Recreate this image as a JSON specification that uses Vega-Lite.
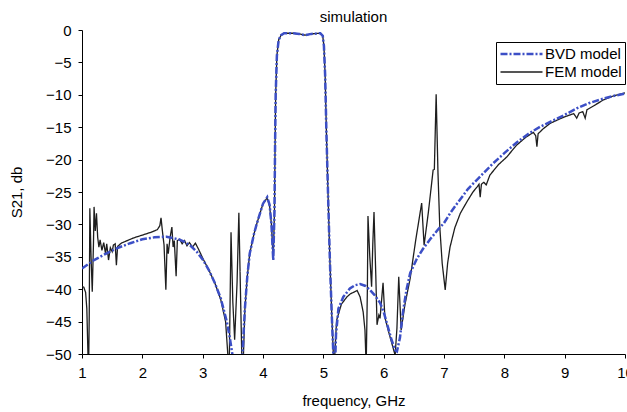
{
  "$schema": "https://vega.github.io/schema/vega-lite/v6.json",
  "autosize": {"type": "none"},
  "padding": {"left": 82, "top": 30, "right": 2, "bottom": 58},
  "width": 543,
  "height": 324,
  "title": {"text": "simulation", "fontSize": 15, "fontWeight": "normal", "font": "Liberation Sans", "color": "#000", "offset": 7, "dy": 9, "anchor": "middle", "frame": "group"},
  "data": {"values": [
    {"f": 1.0, "s21": -39.6, "series": "FEM model"},
    {"f": 1.03, "s21": -39.7, "series": "FEM model"},
    {"f": 1.06, "s21": -40.5, "series": "FEM model"},
    {"f": 1.08, "s21": -43, "series": "FEM model"},
    {"f": 1.1, "s21": -50.5, "series": "FEM model"},
    {"f": 1.11, "s21": -52, "series": "FEM model"},
    {"f": 1.12, "s21": -44, "series": "FEM model"},
    {"f": 1.13, "s21": -27.5, "series": "FEM model"},
    {"f": 1.15, "s21": -35, "series": "FEM model"},
    {"f": 1.17, "s21": -40.4, "series": "FEM model"},
    {"f": 1.19, "s21": -33, "series": "FEM model"},
    {"f": 1.2, "s21": -27.3, "series": "FEM model"},
    {"f": 1.22, "s21": -31, "series": "FEM model"},
    {"f": 1.24, "s21": -28.3, "series": "FEM model"},
    {"f": 1.26, "s21": -32, "series": "FEM model"},
    {"f": 1.28, "s21": -33.5, "series": "FEM model"},
    {"f": 1.3, "s21": -32.4, "series": "FEM model"},
    {"f": 1.33, "s21": -34, "series": "FEM model"},
    {"f": 1.36, "s21": -32.8, "series": "FEM model"},
    {"f": 1.39, "s21": -34.5, "series": "FEM model"},
    {"f": 1.41, "s21": -33, "series": "FEM model"},
    {"f": 1.44, "s21": -35.5, "series": "FEM model"},
    {"f": 1.47, "s21": -33.6, "series": "FEM model"},
    {"f": 1.5, "s21": -34.2, "series": "FEM model"},
    {"f": 1.52, "s21": -33.2, "series": "FEM model"},
    {"f": 1.55, "s21": -33, "series": "FEM model"},
    {"f": 1.57, "s21": -36.3, "series": "FEM model"},
    {"f": 1.59, "s21": -33.4, "series": "FEM model"},
    {"f": 1.65, "s21": -32.9, "series": "FEM model"},
    {"f": 1.75, "s21": -32.5, "series": "FEM model"},
    {"f": 1.85, "s21": -32.1, "series": "FEM model"},
    {"f": 1.95, "s21": -31.8, "series": "FEM model"},
    {"f": 2.05, "s21": -31.5, "series": "FEM model"},
    {"f": 2.15, "s21": -31.2, "series": "FEM model"},
    {"f": 2.25, "s21": -30.8, "series": "FEM model"},
    {"f": 2.29, "s21": -30.2, "series": "FEM model"},
    {"f": 2.31, "s21": -29, "series": "FEM model"},
    {"f": 2.33, "s21": -30.8, "series": "FEM model"},
    {"f": 2.36, "s21": -33.2, "series": "FEM model"},
    {"f": 2.39, "s21": -40.1, "series": "FEM model"},
    {"f": 2.41, "s21": -33, "series": "FEM model"},
    {"f": 2.43, "s21": -34.5, "series": "FEM model"},
    {"f": 2.46, "s21": -32, "series": "FEM model"},
    {"f": 2.49, "s21": -30.4, "series": "FEM model"},
    {"f": 2.51, "s21": -33.5, "series": "FEM model"},
    {"f": 2.53, "s21": -32.5, "series": "FEM model"},
    {"f": 2.56, "s21": -38, "series": "FEM model"},
    {"f": 2.58, "s21": -32.5, "series": "FEM model"},
    {"f": 2.62, "s21": -32.3, "series": "FEM model"},
    {"f": 2.66, "s21": -33, "series": "FEM model"},
    {"f": 2.7, "s21": -32.5, "series": "FEM model"},
    {"f": 2.74, "s21": -33.3, "series": "FEM model"},
    {"f": 2.78, "s21": -32.8, "series": "FEM model"},
    {"f": 2.83, "s21": -33.5, "series": "FEM model"},
    {"f": 2.88, "s21": -32.9, "series": "FEM model"},
    {"f": 2.93, "s21": -33.8, "series": "FEM model"},
    {"f": 3.0, "s21": -35.2, "series": "FEM model"},
    {"f": 3.1, "s21": -37, "series": "FEM model"},
    {"f": 3.2, "s21": -39, "series": "FEM model"},
    {"f": 3.3, "s21": -41.6, "series": "FEM model"},
    {"f": 3.38, "s21": -45, "series": "FEM model"},
    {"f": 3.42, "s21": -50.5, "series": "FEM model"},
    {"f": 3.44, "s21": -52, "series": "FEM model"},
    {"f": 3.47, "s21": -31.2, "series": "FEM model"},
    {"f": 3.5, "s21": -42, "series": "FEM model"},
    {"f": 3.53, "s21": -47.8, "series": "FEM model"},
    {"f": 3.57, "s21": -39, "series": "FEM model"},
    {"f": 3.6, "s21": -28.2, "series": "FEM model"},
    {"f": 3.63, "s21": -42, "series": "FEM model"},
    {"f": 3.65, "s21": -51, "series": "FEM model"},
    {"f": 3.67, "s21": -52, "series": "FEM model"},
    {"f": 3.7, "s21": -43, "series": "FEM model"},
    {"f": 3.74, "s21": -38, "series": "FEM model"},
    {"f": 3.78, "s21": -34.5, "series": "FEM model"},
    {"f": 3.85, "s21": -31.5, "series": "FEM model"},
    {"f": 3.9, "s21": -29.8, "series": "FEM model"},
    {"f": 4.0, "s21": -26.8, "series": "FEM model"},
    {"f": 4.07, "s21": -25.9, "series": "FEM model"},
    {"f": 4.11, "s21": -27.2, "series": "FEM model"},
    {"f": 4.14, "s21": -30, "series": "FEM model"},
    {"f": 4.17, "s21": -35.5, "series": "FEM model"},
    {"f": 4.19, "s21": -28, "series": "FEM model"},
    {"f": 4.2, "s21": -18, "series": "FEM model"},
    {"f": 4.21, "s21": -10, "series": "FEM model"},
    {"f": 4.23, "s21": -4, "series": "FEM model"},
    {"f": 4.26, "s21": -1.5, "series": "FEM model"},
    {"f": 4.3, "s21": -0.8, "series": "FEM model"},
    {"f": 4.35, "s21": -0.5, "series": "FEM model"},
    {"f": 4.5, "s21": -0.5, "series": "FEM model"},
    {"f": 4.6, "s21": -0.6, "series": "FEM model"},
    {"f": 4.7, "s21": -0.8, "series": "FEM model"},
    {"f": 4.8, "s21": -0.6, "series": "FEM model"},
    {"f": 4.95, "s21": -0.5, "series": "FEM model"},
    {"f": 4.99, "s21": -0.9, "series": "FEM model"},
    {"f": 5.01, "s21": -2.5, "series": "FEM model"},
    {"f": 5.03, "s21": -7, "series": "FEM model"},
    {"f": 5.05, "s21": -15.4, "series": "FEM model"},
    {"f": 5.08, "s21": -26, "series": "FEM model"},
    {"f": 5.11, "s21": -36, "series": "FEM model"},
    {"f": 5.14, "s21": -44, "series": "FEM model"},
    {"f": 5.17, "s21": -51, "series": "FEM model"},
    {"f": 5.19, "s21": -50, "series": "FEM model"},
    {"f": 5.22, "s21": -44.8, "series": "FEM model"},
    {"f": 5.3, "s21": -42.3, "series": "FEM model"},
    {"f": 5.39, "s21": -41.2, "series": "FEM model"},
    {"f": 5.45, "s21": -40.7, "series": "FEM model"},
    {"f": 5.52, "s21": -40.4, "series": "FEM model"},
    {"f": 5.56, "s21": -40.2, "series": "FEM model"},
    {"f": 5.61, "s21": -41.2, "series": "FEM model"},
    {"f": 5.66, "s21": -43.5, "series": "FEM model"},
    {"f": 5.69, "s21": -46.3, "series": "FEM model"},
    {"f": 5.71, "s21": -52, "series": "FEM model"},
    {"f": 5.73, "s21": -40, "series": "FEM model"},
    {"f": 5.74, "s21": -28.7, "series": "FEM model"},
    {"f": 5.77, "s21": -35, "series": "FEM model"},
    {"f": 5.8, "s21": -39.6, "series": "FEM model"},
    {"f": 5.82, "s21": -33, "series": "FEM model"},
    {"f": 5.84, "s21": -28.1, "series": "FEM model"},
    {"f": 5.87, "s21": -38, "series": "FEM model"},
    {"f": 5.89, "s21": -45.5, "series": "FEM model"},
    {"f": 5.92, "s21": -44, "series": "FEM model"},
    {"f": 5.94, "s21": -44.5, "series": "FEM model"},
    {"f": 5.99, "s21": -39, "series": "FEM model"},
    {"f": 6.02, "s21": -44.3, "series": "FEM model"},
    {"f": 6.08, "s21": -46.5, "series": "FEM model"},
    {"f": 6.14, "s21": -48.5, "series": "FEM model"},
    {"f": 6.19, "s21": -50.2, "series": "FEM model"},
    {"f": 6.22, "s21": -46, "series": "FEM model"},
    {"f": 6.25, "s21": -38.1, "series": "FEM model"},
    {"f": 6.29, "s21": -46.3, "series": "FEM model"},
    {"f": 6.35, "s21": -42.5, "series": "FEM model"},
    {"f": 6.44, "s21": -38.3, "series": "FEM model"},
    {"f": 6.53, "s21": -32.5, "series": "FEM model"},
    {"f": 6.63, "s21": -26.7, "series": "FEM model"},
    {"f": 6.67, "s21": -33.2, "series": "FEM model"},
    {"f": 6.74, "s21": -28.2, "series": "FEM model"},
    {"f": 6.82, "s21": -21.6, "series": "FEM model"},
    {"f": 6.84, "s21": -21.5, "series": "FEM model"},
    {"f": 6.87, "s21": -9.9, "series": "FEM model"},
    {"f": 6.9, "s21": -22, "series": "FEM model"},
    {"f": 6.93, "s21": -30.4, "series": "FEM model"},
    {"f": 6.97, "s21": -36, "series": "FEM model"},
    {"f": 7.02, "s21": -40.1, "series": "FEM model"},
    {"f": 7.06, "s21": -36, "series": "FEM model"},
    {"f": 7.1, "s21": -33.5, "series": "FEM model"},
    {"f": 7.18, "s21": -30.5, "series": "FEM model"},
    {"f": 7.27, "s21": -28.3, "series": "FEM model"},
    {"f": 7.38, "s21": -26.5, "series": "FEM model"},
    {"f": 7.48, "s21": -25, "series": "FEM model"},
    {"f": 7.55, "s21": -24.2, "series": "FEM model"},
    {"f": 7.58, "s21": -23.8, "series": "FEM model"},
    {"f": 7.6, "s21": -25.8, "series": "FEM model"},
    {"f": 7.62, "s21": -23.8, "series": "FEM model"},
    {"f": 7.66, "s21": -23.5, "series": "FEM model"},
    {"f": 7.7, "s21": -23.9, "series": "FEM model"},
    {"f": 7.76, "s21": -22.4, "series": "FEM model"},
    {"f": 7.9, "s21": -20.8, "series": "FEM model"},
    {"f": 8.04, "s21": -19.6, "series": "FEM model"},
    {"f": 8.2, "s21": -17.8, "series": "FEM model"},
    {"f": 8.35, "s21": -16.6, "series": "FEM model"},
    {"f": 8.48, "s21": -15.8, "series": "FEM model"},
    {"f": 8.52, "s21": -16.3, "series": "FEM model"},
    {"f": 8.54, "s21": -18, "series": "FEM model"},
    {"f": 8.56, "s21": -16, "series": "FEM model"},
    {"f": 8.65, "s21": -15.2, "series": "FEM model"},
    {"f": 8.76, "s21": -14.4, "series": "FEM model"},
    {"f": 8.9, "s21": -13.8, "series": "FEM model"},
    {"f": 9.0, "s21": -13.4, "series": "FEM model"},
    {"f": 9.09, "s21": -13.1, "series": "FEM model"},
    {"f": 9.15, "s21": -12.9, "series": "FEM model"},
    {"f": 9.2, "s21": -13.6, "series": "FEM model"},
    {"f": 9.24, "s21": -12.8, "series": "FEM model"},
    {"f": 9.3, "s21": -12.6, "series": "FEM model"},
    {"f": 9.34, "s21": -13.6, "series": "FEM model"},
    {"f": 9.37, "s21": -12.3, "series": "FEM model"},
    {"f": 9.5, "s21": -11.6, "series": "FEM model"},
    {"f": 9.64, "s21": -10.8, "series": "FEM model"},
    {"f": 9.8, "s21": -10.2, "series": "FEM model"},
    {"f": 10.0, "s21": -9.7, "series": "FEM model"},

    {"f": 1.0, "s21": -36.8, "series": "BVD model"},
    {"f": 1.2, "s21": -35.5, "series": "BVD model"},
    {"f": 1.4, "s21": -34.5, "series": "BVD model"},
    {"f": 1.6, "s21": -33.6, "series": "BVD model"},
    {"f": 1.8, "s21": -32.9, "series": "BVD model"},
    {"f": 2.0, "s21": -32.3, "series": "BVD model"},
    {"f": 2.2, "s21": -32.0, "series": "BVD model"},
    {"f": 2.4, "s21": -31.9, "series": "BVD model"},
    {"f": 2.6, "s21": -32.3, "series": "BVD model"},
    {"f": 2.7, "s21": -32.7, "series": "BVD model"},
    {"f": 2.8, "s21": -33.3, "series": "BVD model"},
    {"f": 2.9, "s21": -34.2, "series": "BVD model"},
    {"f": 3.0, "s21": -35.4, "series": "BVD model"},
    {"f": 3.1, "s21": -37.0, "series": "BVD model"},
    {"f": 3.2, "s21": -39.0, "series": "BVD model"},
    {"f": 3.3, "s21": -41.4, "series": "BVD model"},
    {"f": 3.4, "s21": -45.0, "series": "BVD model"},
    {"f": 3.45, "s21": -47.5, "series": "BVD model"},
    {"f": 3.5, "s21": -50.5, "series": "BVD model"},
    {"f": 3.55, "s21": -54, "series": "BVD model"},
    {"f": 3.62, "s21": -54, "series": "BVD model"},
    {"f": 3.66, "s21": -50, "series": "BVD model"},
    {"f": 3.7, "s21": -43, "series": "BVD model"},
    {"f": 3.74, "s21": -38, "series": "BVD model"},
    {"f": 3.78, "s21": -34.5, "series": "BVD model"},
    {"f": 3.85, "s21": -31.5, "series": "BVD model"},
    {"f": 3.9, "s21": -29.8, "series": "BVD model"},
    {"f": 4.0, "s21": -26.8, "series": "BVD model"},
    {"f": 4.07, "s21": -25.8, "series": "BVD model"},
    {"f": 4.11, "s21": -27, "series": "BVD model"},
    {"f": 4.14, "s21": -30, "series": "BVD model"},
    {"f": 4.17, "s21": -35.5, "series": "BVD model"},
    {"f": 4.19, "s21": -28, "series": "BVD model"},
    {"f": 4.2, "s21": -18, "series": "BVD model"},
    {"f": 4.21, "s21": -10, "series": "BVD model"},
    {"f": 4.23, "s21": -4, "series": "BVD model"},
    {"f": 4.26, "s21": -1.5, "series": "BVD model"},
    {"f": 4.3, "s21": -0.8, "series": "BVD model"},
    {"f": 4.35, "s21": -0.5, "series": "BVD model"},
    {"f": 4.5, "s21": -0.5, "series": "BVD model"},
    {"f": 4.6, "s21": -0.6, "series": "BVD model"},
    {"f": 4.7, "s21": -0.8, "series": "BVD model"},
    {"f": 4.8, "s21": -0.6, "series": "BVD model"},
    {"f": 4.95, "s21": -0.5, "series": "BVD model"},
    {"f": 4.99, "s21": -0.9, "series": "BVD model"},
    {"f": 5.01, "s21": -2.5, "series": "BVD model"},
    {"f": 5.03, "s21": -7, "series": "BVD model"},
    {"f": 5.05, "s21": -15.4, "series": "BVD model"},
    {"f": 5.08, "s21": -26, "series": "BVD model"},
    {"f": 5.11, "s21": -36, "series": "BVD model"},
    {"f": 5.14, "s21": -44, "series": "BVD model"},
    {"f": 5.17, "s21": -51, "series": "BVD model"},
    {"f": 5.19, "s21": -53, "series": "BVD model"},
    {"f": 5.21, "s21": -47, "series": "BVD model"},
    {"f": 5.25, "s21": -43, "series": "BVD model"},
    {"f": 5.33, "s21": -41.2, "series": "BVD model"},
    {"f": 5.44, "s21": -39.9, "series": "BVD model"},
    {"f": 5.52, "s21": -39.4, "series": "BVD model"},
    {"f": 5.61, "s21": -39.2, "series": "BVD model"},
    {"f": 5.7, "s21": -39.5, "series": "BVD model"},
    {"f": 5.77, "s21": -40.1, "series": "BVD model"},
    {"f": 5.85, "s21": -40.9, "series": "BVD model"},
    {"f": 5.94, "s21": -42.1, "series": "BVD model"},
    {"f": 6.0, "s21": -43.5, "series": "BVD model"},
    {"f": 6.07, "s21": -45.8, "series": "BVD model"},
    {"f": 6.13, "s21": -47.8, "series": "BVD model"},
    {"f": 6.19, "s21": -49.4, "series": "BVD model"},
    {"f": 6.22, "s21": -49.6, "series": "BVD model"},
    {"f": 6.27, "s21": -47.5, "series": "BVD model"},
    {"f": 6.32, "s21": -43.5, "series": "BVD model"},
    {"f": 6.38, "s21": -40, "series": "BVD model"},
    {"f": 6.44, "s21": -37.5, "series": "BVD model"},
    {"f": 6.55, "s21": -35.3, "series": "BVD model"},
    {"f": 6.65, "s21": -33.8, "series": "BVD model"},
    {"f": 6.77, "s21": -32.3, "series": "BVD model"},
    {"f": 6.9, "s21": -30.8, "series": "BVD model"},
    {"f": 7.0, "s21": -29.8, "series": "BVD model"},
    {"f": 7.1, "s21": -28.3, "series": "BVD model"},
    {"f": 7.2, "s21": -27, "series": "BVD model"},
    {"f": 7.4, "s21": -24.5, "series": "BVD model"},
    {"f": 7.6, "s21": -22.6, "series": "BVD model"},
    {"f": 7.8, "s21": -20.7, "series": "BVD model"},
    {"f": 8.0, "s21": -19.0, "series": "BVD model"},
    {"f": 8.2, "s21": -17.4, "series": "BVD model"},
    {"f": 8.4, "s21": -16.0, "series": "BVD model"},
    {"f": 8.6, "s21": -14.9, "series": "BVD model"},
    {"f": 8.8, "s21": -14.0, "series": "BVD model"},
    {"f": 9.0, "s21": -13.1, "series": "BVD model"},
    {"f": 9.2, "s21": -12.1, "series": "BVD model"},
    {"f": 9.4, "s21": -11.3, "series": "BVD model"},
    {"f": 9.6, "s21": -10.7, "series": "BVD model"},
    {"f": 9.8, "s21": -10.2, "series": "BVD model"},
    {"f": 10.0, "s21": -9.8, "series": "BVD model"}
  ]},
  "mark": {"type": "line", "clip": true, "interpolate": "linear"},
  "encoding": {
    "x": {"field": "f", "type": "quantitative", "scale": {"domain": [1, 10], "nice": false, "zero": false},
      "axis": {"values": [1, 2, 3, 4, 5, 6, 7, 8, 9, 10], "title": "frequency, GHz", "titlePadding": 13}},
    "y": {"field": "s21", "type": "quantitative", "scale": {"domain": [-50, 0], "nice": false, "zero": false},
      "axis": {"values": [-50, -45, -40, -35, -30, -25, -20, -15, -10, -5, 0], "title": "S21, db", "titlePadding": 21}},
    "color": {"field": "series", "type": "nominal", "scale": {"domain": ["BVD model", "FEM model"], "range": ["#3c4fc6", "#1e1e1e"]}, "legend": {"title": null}},
    "strokeDash": {"field": "series", "type": "nominal", "scale": {"domain": ["BVD model", "FEM model"], "range": [[7, 2, 2, 2], [1, 0]]}, "legend": {"title": null}},
    "strokeWidth": {"field": "series", "type": "nominal", "scale": {"domain": ["BVD model", "FEM model"], "range": [2.5, 1.3]}, "legend": {"title": null}}
  },
  "config": {
    "view": {"stroke": null},
    "font": "Liberation Sans",
    "axis": {"grid": false, "domainColor": "#000", "tickColor": "#000", "labelColor": "#000", "titleColor": "#000",
      "labelFont": "Liberation Sans", "titleFont": "Liberation Sans", "labelFontSize": 15, "titleFontSize": 15,
      "titleFontWeight": "normal", "tickSize": 4, "labelPadding": 7, "domainWidth": 1, "tickWidth": 1, "labelFlush": false},
    "legend": {"orient": "none", "legendX": 414, "legendY": 12, "strokeColor": "#000", "strokeWidth": 1, "fillColor": "#fff",
      "padding": 3, "labelFontSize": 15, "labelFont": "Liberation Sans", "labelColor": "#000", "symbolType": "stroke",
      "symbolSize": 1764, "clipHeight": 18, "labelOffset": 1, "rowPadding": 0, "cornerRadius": 0}
  }
}
